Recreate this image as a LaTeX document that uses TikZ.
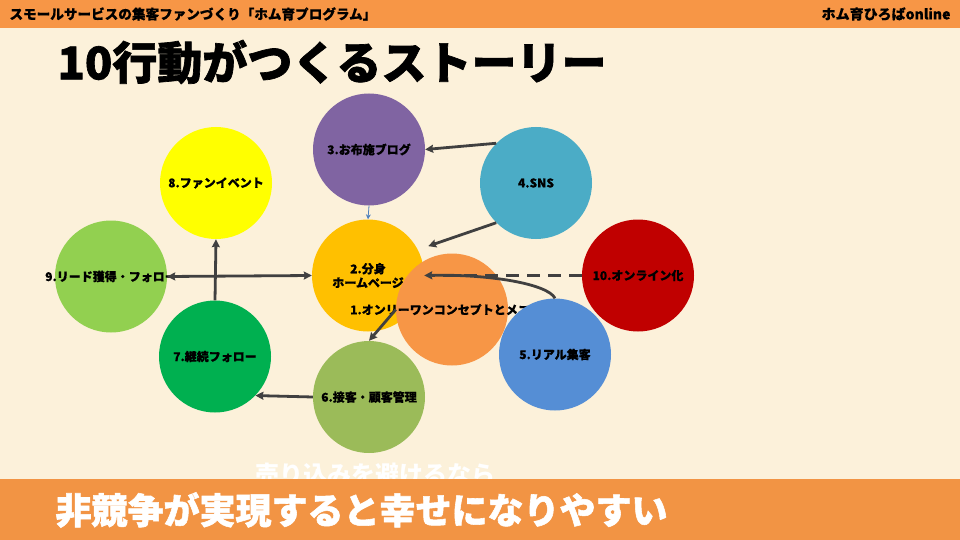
\documentclass[tikz,border=0pt]{standalone}
\usepackage{fontspec}
\newfontfamily\jp{Noto Sans CJK JP}
\newfontfamily\jpheavy{Noto Sans CJK JP}[BoldFeatures={FakeBold=1.5}]
\newfontfamily\jpmid{Noto Sans CJK JP}[BoldFeatures={FakeBold=0.5}]
\usetikzlibrary{arrows.meta, calc}
\definecolor{paper}{HTML}{FCF1DA}
\definecolor{bar}{HTML}{F79646}
\definecolor{barlow}{HTML}{F29444}
\definecolor{ink}{HTML}{404040}
\definecolor{thin}{HTML}{4F81BD}

\begin{document}
\begin{tikzpicture}[x=1pt, y=-1pt,
  >={Stealth[length=8pt, width=8pt, inset=1pt]},
  spot/.style={circle, minimum size=112pt, inner sep=0pt},
  txt/.style={font=\jpmid\bfseries\fontsize{12}{14}\selectfont, align=center},
  conn/.style={->, draw=ink, line width=2.8pt}
 ]
 \useasboundingbox (0,0) rectangle (960,540);
 \fill[paper] (0,0) rectangle (960,540);
 \fill[bar] (0,0) rectangle (960,28);
 \node[anchor=west, font=\jpmid\bfseries\fontsize{13.6}{16}\selectfont] (head) at (6,14) {スモールサービスの集客ファンづくり「ホム育プログラム」};
 \node[anchor=east, font=\jpmid\bfseries\fontsize{14}{16}\selectfont] (site) at (954,14) {ホム育ひろばonline};
 \node[anchor=west, font=\jpheavy\bfseries\fontsize{45}{50}\selectfont] (title) at (54,62) {10行動がつくるストーリー};

 % circles
 \foreach \n/\x/\y/\c in {8/216/183/FFFF00, 9/111/276.5/92D050, 7/215/356.5/00B050,
   3/369/149.5/8064A2, 4/536/183/4BACC6, 10/638/275.5/C00000,
   6/369/397/9BBB59, 2/368/275.5/FFC000, 1/452/309.5/F79646} {
  \definecolor{tmp}{HTML}{\c}
  \node[spot, fill=tmp] (c\n) at (\x,\y) {};
 }
 \node[txt] (t8) at (c8) {8.ファンイベント};
 \node[txt] (t9) at (c9) {9.リード獲得・フォロー};
 \node[txt] (t7) at (c7) {7.継続フォロー};
 \node[txt] (t3) at (c3) {3.お布施ブログ};
 \node[txt] (t4) at (c4) {4.SNS};
 \node[txt] (t10) at (c10) {10.オンライン化};
 \node[txt] (t6) at (c6) {6.接客・顧客管理};
 \node[txt] (t2) at (c2) {2.分身\\ホームページ};
 \node[txt] (t1) at (c1) {1.オンリーワンコンセプトとメニュー};
 \node[spot, fill={rgb,255:red,85;green,142;blue,213}] (c5) at (555,354.5) {};
 \node[txt] (t5) at (c5) {5.リアル集客};

 % connectors
 \draw [conn] (c4.135) -- (c3.east);
 \draw [conn] (c4.225) -- ($(c2.center)+(26:67pt)$);
 \draw [->, draw=thin, line width=0.8pt, >={Stealth[length=5pt, width=5pt]}] (c3.south) -- (c2.north);
 \draw [conn] (c1.west) -- (c6.north);
 \draw [conn, -, dash pattern=on 13pt off 8pt] (c10.west) -- ([xshift=8pt]c2.east);
 \draw [conn] (c5.north) .. controls (548,284) and (490,274) .. (c2.east);
 \draw [conn] (c6.west) -- (c7.-44);
 \draw [conn, <->] (c9.east) -- (c2.west);
 \draw [conn] (c7.north) -- (c8.south);

 \node[font=\jp\bfseries\fontsize{24}{28}\selectfont, text=white] (hint) at (375,474) {売り込みを避けるなら};
 \fill[barlow] (0,479) rectangle (960,540);
 \node[anchor=west, text=white, font=\jpheavy\bfseries\fontsize{36}{40}\selectfont] (claim) at (52,510) {非競争が実現すると幸せになりやすい};
\end{tikzpicture}
\end{document}
